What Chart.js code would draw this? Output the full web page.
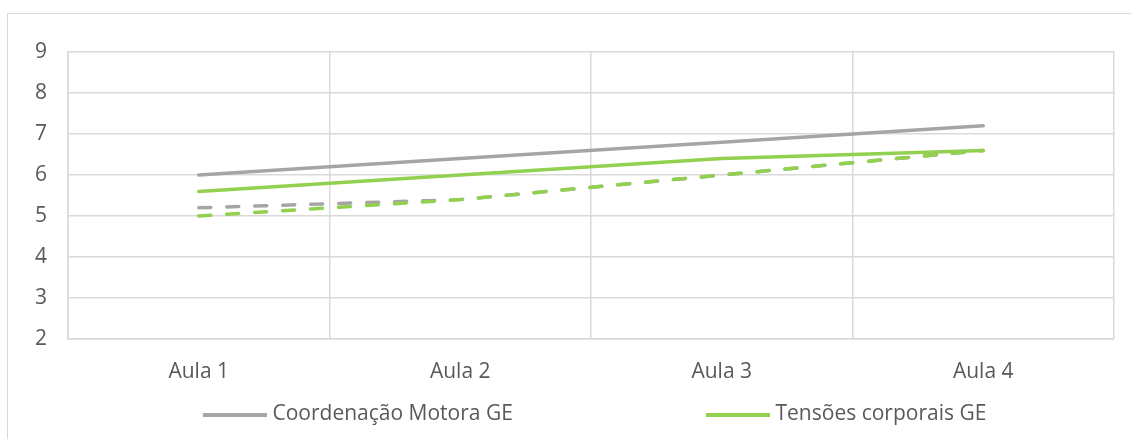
<!DOCTYPE html>
<html><head><meta charset="utf-8">
<script src="https://cdn.jsdelivr.net/npm/chart.js@4.4.1/dist/chart.umd.min.js"></script>
<style>
html,body{margin:0;padding:0;background:#fff;overflow:hidden;width:1131px;height:439px;}
#frame{position:absolute;left:7px;top:13px;width:1200px;height:500px;border-left:1.5px solid #d9d9d9;border-top:1.5px solid #d9d9d9;}
#c{position:absolute;left:0;top:0;}
</style></head><body>
<div id="frame"></div>
<canvas id="c" width="1131" height="439"></canvas>
<script>
const categories = ['Aula 1', 'Aula 2', 'Aula 3', 'Aula 4'];
const coordenacaoGE = [6.0, 6.4, 6.8, 7.2];
const tensoesGE = [5.6, 6.0, 6.4, 6.6];
const coordenacaoGC = [5.2, 5.4, 6.0, 6.6];
const tensoesGC = [5.0, 5.4, 6.0, 6.6];
const yTicks = [2, 3, 4, 5, 6, 7, 8, 9];
const seriesNames = ['Coordenação Motora GE', 'Tensões corporais GE', 'Coordenação Motora GC', 'Tensões corporais GC'];

const GRAY = '#a5a5a5', GREEN = '#92d050', GRID = '#d9d9d9', TEXT = '#595959';
const FONT = {family: '"Open Sans", sans-serif', size: 21};
const P = 10;          // legend item padding
const LINE_LEN = 64;   // legend line sample length

const mctx = document.createElement('canvas').getContext('2d');
mctx.font = '21px "Open Sans"';
const t1 = mctx.measureText(seriesNames[0]).width;
const BOXW = Math.max(80, 706 - 203 - FONT.size / 2 - t1 - P);
const PADL = 203 - P - BOXW + (LINE_LEN - 5);

function legendLine(color) {
  const c = document.createElement('canvas');
  c.width = Math.round(BOXW + 10); c.height = 4;
  const g = c.getContext('2d');
  g.fillStyle = color;
  g.fillRect(c.width - LINE_LEN, 0, LINE_LEN, 4);
  return c;
}

function ds(i, data, color, dashed, order) {
  return {
    label: seriesNames[i], data, borderColor: color, backgroundColor: color,
    borderWidth: 3.5, borderDash: dashed ? [12, 16] : [], borderCapStyle: 'round',
    pointRadius: 0, pointHoverRadius: 0, pointStyle: legendLine(color),
    tension: 0, order, fill: false
  };
}

new Chart(document.getElementById('c'), {
  type: 'line',
  data: {
    labels: categories,
    datasets: [
      ds(0, coordenacaoGE, GRAY, false, 4),
      ds(1, tensoesGE, GREEN, false, 3),
      ds(2, coordenacaoGC, GRAY, true, 2),
      ds(3, tensoesGC, GREEN, true, 1)
    ]
  },
  options: {
    responsive: false, animation: false, devicePixelRatio: 1, events: [],
    layout: {padding: {left: PADL, right: 17, top: 52, bottom: 4}},
    scales: {
      x: {
        type: 'category', offset: true,
        grid: {offset: true, color: GRID, lineWidth: 1.5, drawTicks: false},
        border: {color: GRID, width: 1.5},
        ticks: {padding: 20, font: FONT, color: TEXT},
        afterFit(s) { s.height = 55; }
      },
      y: {
        min: yTicks[0], max: yTicks[yTicks.length - 1],
        afterBuildTicks(s) { s.ticks = yTicks.map(v => ({value: v})); },
        grid: {color: GRID, lineWidth: 1.5, drawTicks: false},
        border: {color: GRID, width: 1.5},
        ticks: {padding: 21, font: FONT, color: TEXT, stepSize: 1},
        afterFit(s) { s.width = 68 - PADL; }
      }
    },
    plugins: {
      tooltip: {enabled: false},
      legend: {
        position: 'bottom', align: 'start',
        labels: {
          usePointStyle: true, pointStyleWidth: BOXW, padding: P,
          font: FONT, color: TEXT,
          filter: (item) => item.datasetIndex < 2,
          sort: (a, b) => a.datasetIndex - b.datasetIndex
        }
      }
    }
  }
});
</script>
</body></html>
